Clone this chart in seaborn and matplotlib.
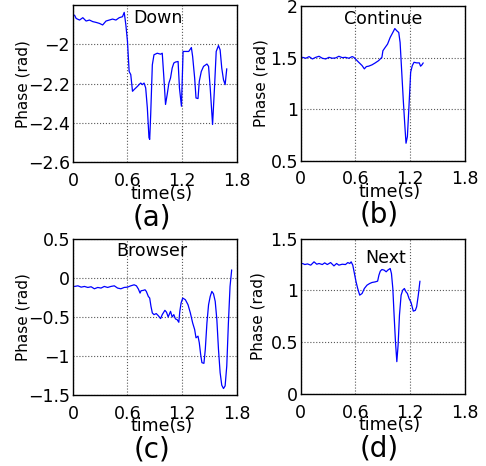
import pandas as pd
import seaborn as sns
from matplotlib import pyplot as plt
from matplotlib.ticker import FuncFormatter

# (a) Down
down_t = [0.018, 0.036, 0.073, 0.109, 0.145, 0.182, 0.218, 0.255, 0.291, 0.327, 0.364, 0.400, 0.436,
          0.473, 0.509, 0.545, 0.564, 0.582, 0.600, 0.618, 0.636, 0.655, 0.673, 0.691, 0.709, 0.727,
          0.745, 0.764, 0.782, 0.800, 0.818, 0.836, 0.844, 0.855, 0.873, 0.891, 0.927, 0.964, 0.982,
          1.000, 1.018, 1.036, 1.055, 1.073, 1.091, 1.109, 1.127, 1.156, 1.171, 1.193, 1.211, 1.236,
          1.273, 1.302, 1.316, 1.338, 1.353, 1.375, 1.389, 1.411, 1.436, 1.473, 1.491, 1.509, 1.535,
          1.556, 1.575, 1.600, 1.618, 1.636, 1.655, 1.673, 1.691]
down_phase = [-1.851, -1.868, -1.876, -1.864, -1.881, -1.876, -1.884, -1.888, -1.893, -1.901, -1.881,
              -1.876, -1.871, -1.876, -1.864, -1.859, -1.837, -1.901, -1.986, -2.138, -2.154, -2.239,
              -2.230, -2.222, -2.214, -2.205, -2.197, -2.205, -2.197, -2.222, -2.323, -2.475, -2.484,
              -2.357, -2.104, -2.053, -2.045, -2.050, -2.045, -2.171, -2.306, -2.256, -2.197, -2.171,
              -2.121, -2.095, -2.090, -2.087, -2.222, -2.315, -2.036, -2.036, -2.036, -2.016, -2.062,
              -2.171, -2.273, -2.276, -2.188, -2.138, -2.112, -2.100, -2.112, -2.222, -2.408, -2.222,
              -2.036, -2.006, -2.028, -2.121, -2.180, -2.205, -2.124]

# (b) Continue
cont_t = [0.018, 0.055, 0.091, 0.127, 0.164, 0.200, 0.236, 0.273, 0.309, 0.345, 0.382, 0.418, 0.455,
          0.491, 0.527, 0.564, 0.582, 0.600, 0.636, 0.673, 0.698, 0.720, 0.745, 0.782, 0.818, 0.855,
          0.891, 0.902, 0.927, 0.953, 0.982, 1.011, 1.033, 1.055, 1.076, 1.091, 1.109, 1.127, 1.145,
          1.156, 1.171, 1.189, 1.207, 1.225, 1.244, 1.273, 1.302, 1.316, 1.331, 1.345]
cont_phase = [1.503, 1.494, 1.510, 1.487, 1.503, 1.513, 1.494, 1.487, 1.503, 1.494, 1.497, 1.513, 1.500,
              1.503, 1.494, 1.510, 1.503, 1.487, 1.455, 1.423, 1.391, 1.413, 1.417, 1.430, 1.449, 1.471,
              1.503, 1.567, 1.599, 1.631, 1.696, 1.744, 1.782, 1.760, 1.744, 1.647, 1.359, 1.071, 0.814,
              0.670, 0.734, 1.038, 1.359, 1.423, 1.455, 1.449, 1.449, 1.417, 1.430, 1.449]

# (c) Browser
brow_t = [0.018, 0.055, 0.091, 0.127, 0.164, 0.200, 0.236, 0.273, 0.309, 0.345, 0.382, 0.418, 0.455,
          0.491, 0.527, 0.564, 0.600, 0.636, 0.673, 0.698, 0.720, 0.738, 0.749, 0.771, 0.793, 0.807,
          0.829, 0.844, 0.858, 0.873, 0.891, 0.916, 0.938, 0.964, 0.982, 1.011, 1.029, 1.047, 1.073,
          1.091, 1.109, 1.127, 1.145, 1.164, 1.175, 1.189, 1.207, 1.236, 1.265, 1.291, 1.316, 1.338,
          1.353, 1.375, 1.389, 1.404, 1.418, 1.440, 1.455, 1.473, 1.491, 1.509, 1.527, 1.545, 1.564,
          1.582, 1.600, 1.618, 1.636, 1.655, 1.673, 1.691, 1.709, 1.727, 1.745]
brow_phase = [-0.107, -0.099, -0.116, -0.107, -0.120, -0.111, -0.137, -0.120, -0.128, -0.107, -0.120,
              -0.107, -0.099, -0.128, -0.137, -0.120, -0.116, -0.099, -0.086, -0.099, -0.141, -0.192,
              -0.162, -0.158, -0.150, -0.171, -0.235, -0.256, -0.362, -0.447, -0.468, -0.455, -0.481,
              -0.519, -0.468, -0.413, -0.438, -0.498, -0.426, -0.498, -0.468, -0.523, -0.532, -0.566,
              -0.426, -0.319, -0.256, -0.277, -0.341, -0.447, -0.574, -0.659, -0.765, -0.744, -0.829,
              -0.978, -1.084, -1.092, -0.914, -0.574, -0.341, -0.235, -0.171, -0.201, -0.298, -0.532,
              -0.914, -1.211, -1.372, -1.415, -1.381, -1.126, -0.574, -0.107, 0.105]

# (d) Next
next_t = [0.018, 0.044, 0.073, 0.109, 0.145, 0.175, 0.200, 0.236, 0.262, 0.291, 0.327, 0.364, 0.393,
          0.418, 0.455, 0.491, 0.516, 0.538, 0.553, 0.571, 0.589, 0.607, 0.625, 0.647, 0.673, 0.698,
          0.727, 0.756, 0.782, 0.818, 0.844, 0.858, 0.873, 0.891, 0.916, 0.938, 0.956, 0.982, 0.996,
          1.011, 1.025, 1.040, 1.055, 1.069, 1.084, 1.102, 1.120, 1.138, 1.156, 1.171, 1.189, 1.211,
          1.236, 1.258, 1.273, 1.291, 1.309]
next_phase = [1.260, 1.250, 1.256, 1.244, 1.276, 1.253, 1.260, 1.250, 1.266, 1.250, 1.269, 1.237, 1.260,
              1.244, 1.253, 1.250, 1.269, 1.260, 1.276, 1.244, 1.163, 1.083, 1.019, 0.955, 0.971, 1.019,
              1.051, 1.067, 1.077, 1.083, 1.090, 1.147, 1.186, 1.202, 1.196, 1.180, 1.196, 1.212, 1.163,
              1.019, 0.763, 0.506, 0.314, 0.474, 0.763, 0.955, 1.003, 1.019, 0.987, 0.971, 0.923, 0.885,
              0.801, 0.808, 0.843, 0.955, 1.090]

time_ticks = [0, 0.6, 1.2, 1.8]

panels = [
    # title, letter, t, phase, ylim, yticks, axes rect, title pos, ylabel x
    ("Down", "(a)", down_t, down_phase, (-2.6, -1.8), [-2.6, -2.4, -2.2, -2.0],
     [0.150, 0.652, 0.337, 0.337], (0.52, 0.975), -0.305),
    ("Continue", "(b)", cont_t, cont_phase, (0.5, 2.0), [0.5, 1.0, 1.5, 2.0],
     [0.619, 0.655, 0.337, 0.332], (0.50, 0.975), -0.245),
    ("Browser", "(c)", brow_t, brow_phase, (-1.5, 0.5), [-1.5, -1.0, -0.5, 0.0, 0.5],
     [0.150, 0.152, 0.337, 0.335], (0.48, 0.98), -0.305),
    ("Next", "(d)", next_t, next_phase, (0.0, 1.5), [0.0, 0.5, 1.0, 1.5],
     [0.619, 0.154, 0.337, 0.334], (0.52, 0.93), -0.262),
]

sns.set_theme(style="white")
plt.rcParams["font.family"] = ["DejaVu Sans"]
plt.rcParams["axes.unicode_minus"] = True
plt.rcParams["text.color"] = "black"
plt.rcParams["axes.labelcolor"] = "black"

fmt = FuncFormatter(lambda v, p: ("%g" % v).replace("-", "\u2212"))

fig = plt.figure(figsize=(4.86, 4.66), dpi=100)
for title, letter, t, phase, ylim, yticks, rect, tpos, ylx in panels:
    ax = fig.add_axes(rect)
    df = pd.DataFrame({"time": t, "phase": phase})
    sns.lineplot(data=df, x="time", y="phase", ax=ax, color="#0000ff", lw=0.9)
    ax.set_xlim(0, 1.8)
    ax.set_ylim(*ylim)
    ax.set_xticks(time_ticks)
    ax.set_yticks(yticks)
    ax.xaxis.set_major_formatter(fmt)
    ax.yaxis.set_major_formatter(fmt)
    ax.tick_params(direction="in", length=0, labelsize=12.5, colors="black")
    ax.tick_params(axis="x", pad=7)
    ax.tick_params(axis="y", pad=2)
    ax.grid(True, color="0.35", linestyle=":", lw=0.8)
    for s in ax.spines.values():
        s.set_color("black")
        s.set_linewidth(1.0)
    ax.set_xlabel("time(s)", fontsize=12.5, color="black")
    ax.xaxis.set_label_coords(0.54, -0.2)
    ax.xaxis.label.set_va("center")
    ax.set_ylabel("Phase (rad)", fontsize=11, color="black")
    ax.yaxis.set_label_coords(ylx, 0.5)
    ax.yaxis.label.set_va("center")
    ax.text(tpos[0], tpos[1], title, transform=ax.transAxes, ha="center", va="top",
            fontsize=12.5, color="black")
    ax.text(0.48, -0.35, letter, transform=ax.transAxes, ha="center", va="center",
            fontsize=20, color="black")

plt.savefig("out.png", dpi=100)
